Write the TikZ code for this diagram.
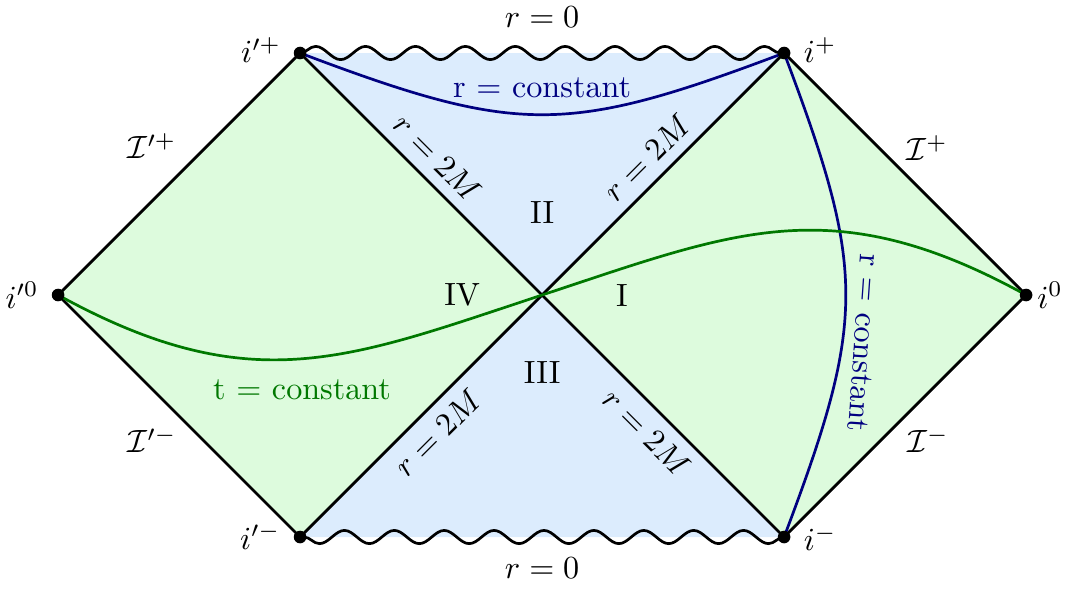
\documentclass[tikz,border=0pt]{standalone}
\usepackage{amsmath,amssymb}
\usepackage{xcolor}
\usepackage{tikz}
\usetikzlibrary{calc,decorations.pathmorphing}
\definecolor{regiongreen}{HTML}{DDFBDD}
\definecolor{regionblue}{HTML}{DCECFD}
\definecolor{rconst}{HTML}{000080}
\definecolor{tconst}{HTML}{007800}

\begin{document}
\begin{tikzpicture}[
  x=2.83cm, y=2.83cm,
  every node/.append style={scale=1.07},
  border/.style={line width=0.9pt, black},
  singular/.style={line width=0.9pt, black, decorate, decoration={snake, amplitude=2.2pt, segment length=16.6pt}},
  rcurve/.style={line width=0.9pt, rconst},
  tcurve/.style={line width=0.9pt, tconst},
  horizon/.style={sloped, font=\normalsize},
]
\useasboundingbox (-2.240,-1.211) rectangle (2.169,1.219);

% Points of the diagram
\coordinate (c) at (0,0);
\coordinate (ip) at (1,1);
\coordinate (im) at (1,-1);
\coordinate (izero) at (2,0);
\coordinate (ipp) at (-1,1);
\coordinate (ipm) at (-1,-1);
\coordinate (ipzero) at (-2,0);

% Regions
\fill[regiongreen] (c) -- (ip) -- (izero) -- (im) -- cycle;
\fill[regiongreen] (c) -- (ipp) -- (ipzero) -- (ipm) -- cycle;
\fill[regionblue] (c) -- (ipp) -- (ip) -- cycle;
\fill[regionblue] (c) -- (ipm) -- (im) -- cycle;

% Null infinity
\draw[border] (ipzero) -- (ipp);
\draw[border] (ip) -- (izero);
\draw[border] (izero) -- (im);
\draw[border] (ipm) -- (ipzero);

% Horizons
\draw[border] (ipp) -- node[horizon, above] {$r=2M$} (c);
\draw[border] (c) -- node[horizon, above] {$r=2M$} (ip);
\draw[border] (ipm) -- node[horizon, below] {$r=2M$} (c);
\draw[border] (c) -- node[horizon, below] {$r=2M$} (im);

% Singularities
\draw[singular] (ipp) -- (ip);
\draw[singular] (im) -- (ipm);

% Constant r and t curves
\draw[rcurve] (ipp) .. controls (-0.1,0.66) and (0.1,0.66) .. (ip);
\draw[rcurve] (ip) .. controls (1.34,0.1) and (1.34,-0.1) .. (im);
\draw[tcurve] (ipzero) .. controls (-1.2,-0.44) and (-0.8,-0.264) .. (c)
  .. controls (0.8,0.264) and (1.2,0.44) .. (izero);

% Points
\foreach \p in {ip,im,izero,ipp,ipm,ipzero}
  \fill (\p) circle (2.1pt);

% Labels
\node (lip) at (1.149,1.012) {$i^+$};
\node (lim) at (1.149,-1.004) {$i^-$};
\node (lizero) at (2.099,0) {$i^0$};
\node (lipp) at (-1.161,1.012) {$i'^+$};
\node (lipm) at (-1.165,-0.999) {$i'^-$};
\node (lipzero) at (-2.149,0) {$i'^0$};

\node (scrp) at (1.591,0.607) {$\mathcal{I}^+$};
\node (scrm) at (1.595,-0.599) {$\mathcal{I}^-$};
\node (scrpp) at (-1.612,0.616) {$\mathcal{I}'^+$};
\node (scrpm) at (-1.612,-0.599) {$\mathcal{I}'^-$};

\node (rtop) at (0,1.149) {$r=0$};
\node (rbot) at (0,-1.128) {$r=0$};

\node (one) at (0.33,0) {I};
\node (two) at (0,0.339) {II};
\node (three) at (0,-0.322) {III};
\node (four) at (-0.33,0) {IV};

\node[text=rconst] (rlabtop) at (0,0.855) {r $=$ constant};
\node[text=rconst, rotate=-94] (rlabright) at (1.33,-0.198) {r $=$ constant};
\node[text=tconst] (tlab) at (-0.992,-0.393) {t $=$ constant};

\end{tikzpicture}
\end{document}
